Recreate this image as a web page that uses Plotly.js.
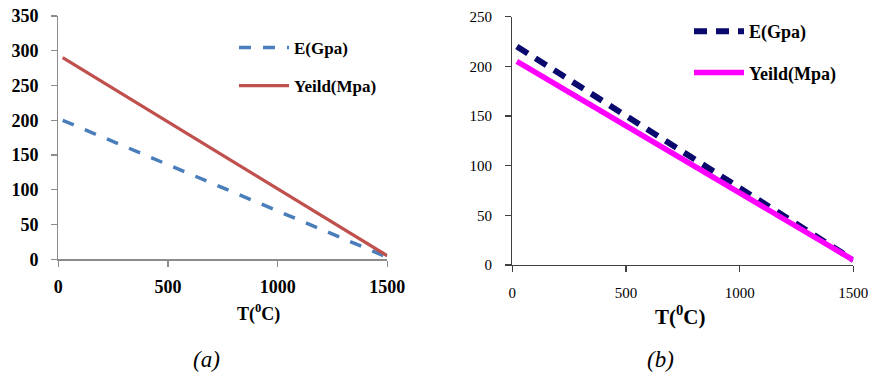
<!DOCTYPE html>
<html>
<head>
<meta charset="utf-8">
<script src="https://cdn.plot.ly/plotly-3.0.1.min.js"></script>
<style>html,body{margin:0;padding:0;background:#fff;}#chart{width:872px;height:390px;}</style>
</head>
<body>
<div id="chart"></div>
<script>
// Chart (a)
const tempA = [20, 1500];
const eA = [200, 3];
const yieldA = [290, 5];
// Chart (b)
const tempB = [20, 1500];
const eB = [220, 5];
const yieldB = [205, 5];
const seriesNames = ["E(Gpa)", "Yeild(Mpa)"];
const xTitle = "T(<sup>0</sup>C)";
const captions = ["(a)", "(b)"];

const serif = "Liberation Serif, Times New Roman, serif";

const traces = [
  {x: tempA, y: eA, name: seriesNames[0], mode: "lines", xaxis: "x", yaxis: "y", legend: "legend",
   line: {color: "#4A7EBB", width: 3.5, dash: "12px,12px"}},
  {x: tempA, y: yieldA, name: seriesNames[1], mode: "lines", xaxis: "x", yaxis: "y", legend: "legend",
   line: {color: "#C0504D", width: 3.2}},
  {x: tempB, y: eB, name: seriesNames[0], mode: "lines", xaxis: "x2", yaxis: "y2", legend: "legend2",
   line: {color: "#0A0A6E", width: 6, dash: "13px,9px"}},
  {x: tempB, y: yieldB, name: seriesNames[1], mode: "lines", xaxis: "x2", yaxis: "y2", legend: "legend2",
   line: {color: "#FF00FF", width: 5.5}}
];

const W = 872, H = 390;
const px = v => v / W;
const py = v => (H - v) / H;

const axA = {showgrid: false, zeroline: false, showline: true, linecolor: "#8C8C8C", linewidth: 1.3,
  ticks: "outside", ticklen: 6, tickcolor: "#8C8C8C", tickwidth: 1.3,
  tickfont: {family: serif, size: 18, color: "#000", weight: "bold"}};
const axB = {showgrid: false, zeroline: false, showline: true, linecolor: "#404040", linewidth: 1.3,
  ticks: "outside", ticklen: 6, tickcolor: "#404040", tickwidth: 1.3,
  tickfont: {family: serif, size: 15, color: "#000"}};

const layout = {
  width: W, height: H,
  margin: {l: 0, r: 0, t: 0, b: 0},
  paper_bgcolor: "#fff", plot_bgcolor: "#fff",
  showlegend: true,
  xaxis: Object.assign({}, axA, {domain: [px(58.3), px(387.3)], range: [0, 1500], tickvals: [0, 500, 1000, 1500],
    anchor: "y", ticklabelstandoff: 5}),
  yaxis: Object.assign({}, axA, {domain: [py(259.3), py(16)], range: [0, 350], dtick: 50, anchor: "x", ticklabelstandoff: 9}),
  xaxis2: Object.assign({}, axB, {domain: [px(512.3), px(853.3)], range: [0, 1500], tickvals: [0, 500, 1000, 1500],
    anchor: "y2", ticklabelstandoff: 8}),
  yaxis2: Object.assign({}, axB, {domain: [py(265), py(16.7)], range: [0, 250], dtick: 50, anchor: "x2", ticklabelstandoff: 10}),
  legend: {x: px(234), y: py(30), xanchor: "left", yanchor: "top", bgcolor: "rgba(0,0,0,0)",
    font: {family: serif, size: 17, color: "#000", weight: "bold"}, tracegroupgap: 13, traceorder: "grouped", itemwidth: 50},
  legend2: {x: px(689), y: py(13), xanchor: "left", yanchor: "top", bgcolor: "rgba(0,0,0,0)",
    font: {family: serif, size: 18, color: "#000", weight: "bold"}, tracegroupgap: 15, traceorder: "grouped", itemwidth: 50},
  annotations: [
    {text: xTitle, xref: "paper", yref: "paper", x: px(235), y: py(327), showarrow: false,
      font: {family: serif, size: 18, color: "#000", weight: "bold"}},
    {text: xTitle, xref: "paper", yref: "paper", x: px(708), y: py(331), showarrow: false,
      font: {family: serif, size: 21, color: "#000", weight: "bold"}},
    {text: "<i>" + captions[0] + "</i>", xref: "paper", yref: "paper", x: px(191), y: py(374), showarrow: false,
      font: {family: serif, size: 23, color: "#000"}},
    {text: "<i>" + captions[1] + "</i>", xref: "paper", yref: "paper", x: px(676), y: py(374), showarrow: false,
      font: {family: serif, size: 23, color: "#000"}}
  ]
};

traces.forEach((t, i) => { t.legendgroup = "g" + i; });

Plotly.newPlot("chart", traces, layout, {staticPlot: true, displayModeBar: false});
</script>
</body>
</html>
